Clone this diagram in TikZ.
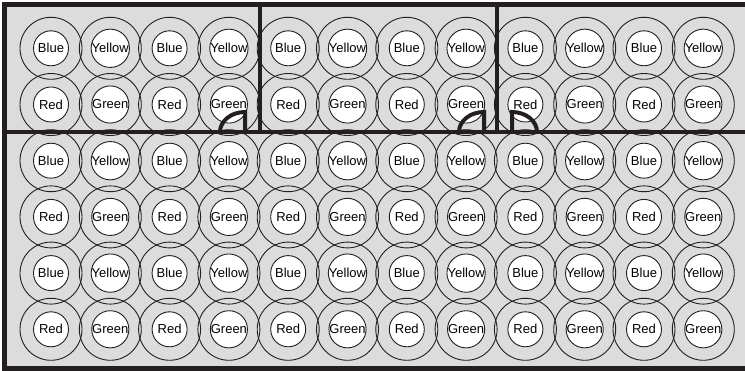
\documentclass[tikz,border=0pt]{standalone}
\usepackage{fontspec}
\setmainfont{Liberation Sans}
\definecolor{bg}{RGB}{220,220,220}
\definecolor{ink}{RGB}{35,31,32}
\begin{document}
\begin{tikzpicture}[x=1pt,y=-1pt,
  outerring/.style={circle, draw=ink, line width=0.9pt, minimum size=62pt, inner sep=0pt},
  innerdisc/.style={circle, draw=ink, fill=white, line width=0.9pt, minimum size=35pt, inner sep=0pt, font=\fontsize{13}{15}\selectfont},
  wall/.style={draw=ink, line width=4.5pt},
  border/.style={draw=ink, line width=5.5pt},
  doorarc/.style={draw=ink, line width=4pt}]
\useasboundingbox (0,0) rectangle (745,371);
\fill[bg] (4.5,4.5) rectangle (760,368.5);
% outer rings
\foreach \j in {0,...,5}{
  \foreach \i in {0,...,11}{
    \node[outerring] (o-\i-\j) at ({51+59.3*\i},{48.3+56.2*\j}) {};
  }
}
% inner discs with labels
\foreach \j/\a/\b in {0/Blue/Yellow,1/Red/Green,2/Blue/Yellow,3/Red/Green,4/Blue/Yellow,5/Red/Green}{
  \foreach \i in {0,2,...,10}{
    \pgfmathtruncatemacro{\k}{\i+1}
    \node[innerdisc] (c-\i-\j) at ({51+59.3*\i},{48.3+56.2*\j}) {\a};
    \node[innerdisc] (c-\k-\j) at ({51+59.3*\k},{48.3+56.2*\j}) {\b};
  }
}
% outer border (right side open)
\draw[border] (760,4.5) -- (4.5,4.5) -- (4.5,368.5) -- (760,368.5);
% walls
\draw[wall] (4.5,132) -- (760,132);
\draw[wall] (260,4.5) -- (260,132);
\draw[wall] (497,4.5) -- (497,132);
% doors
\draw[doorarc] (220,132) arc[start angle=180,end angle=270,x radius=25,y radius=20] -- (245,132);
\draw[doorarc] (459,132) arc[start angle=180,end angle=270,x radius=25,y radius=20] -- (484,132);
\draw[doorarc] (512,132) -- (512,112) arc[start angle=270,end angle=360,x radius=25,y radius=20];
\end{tikzpicture}
\end{document}
